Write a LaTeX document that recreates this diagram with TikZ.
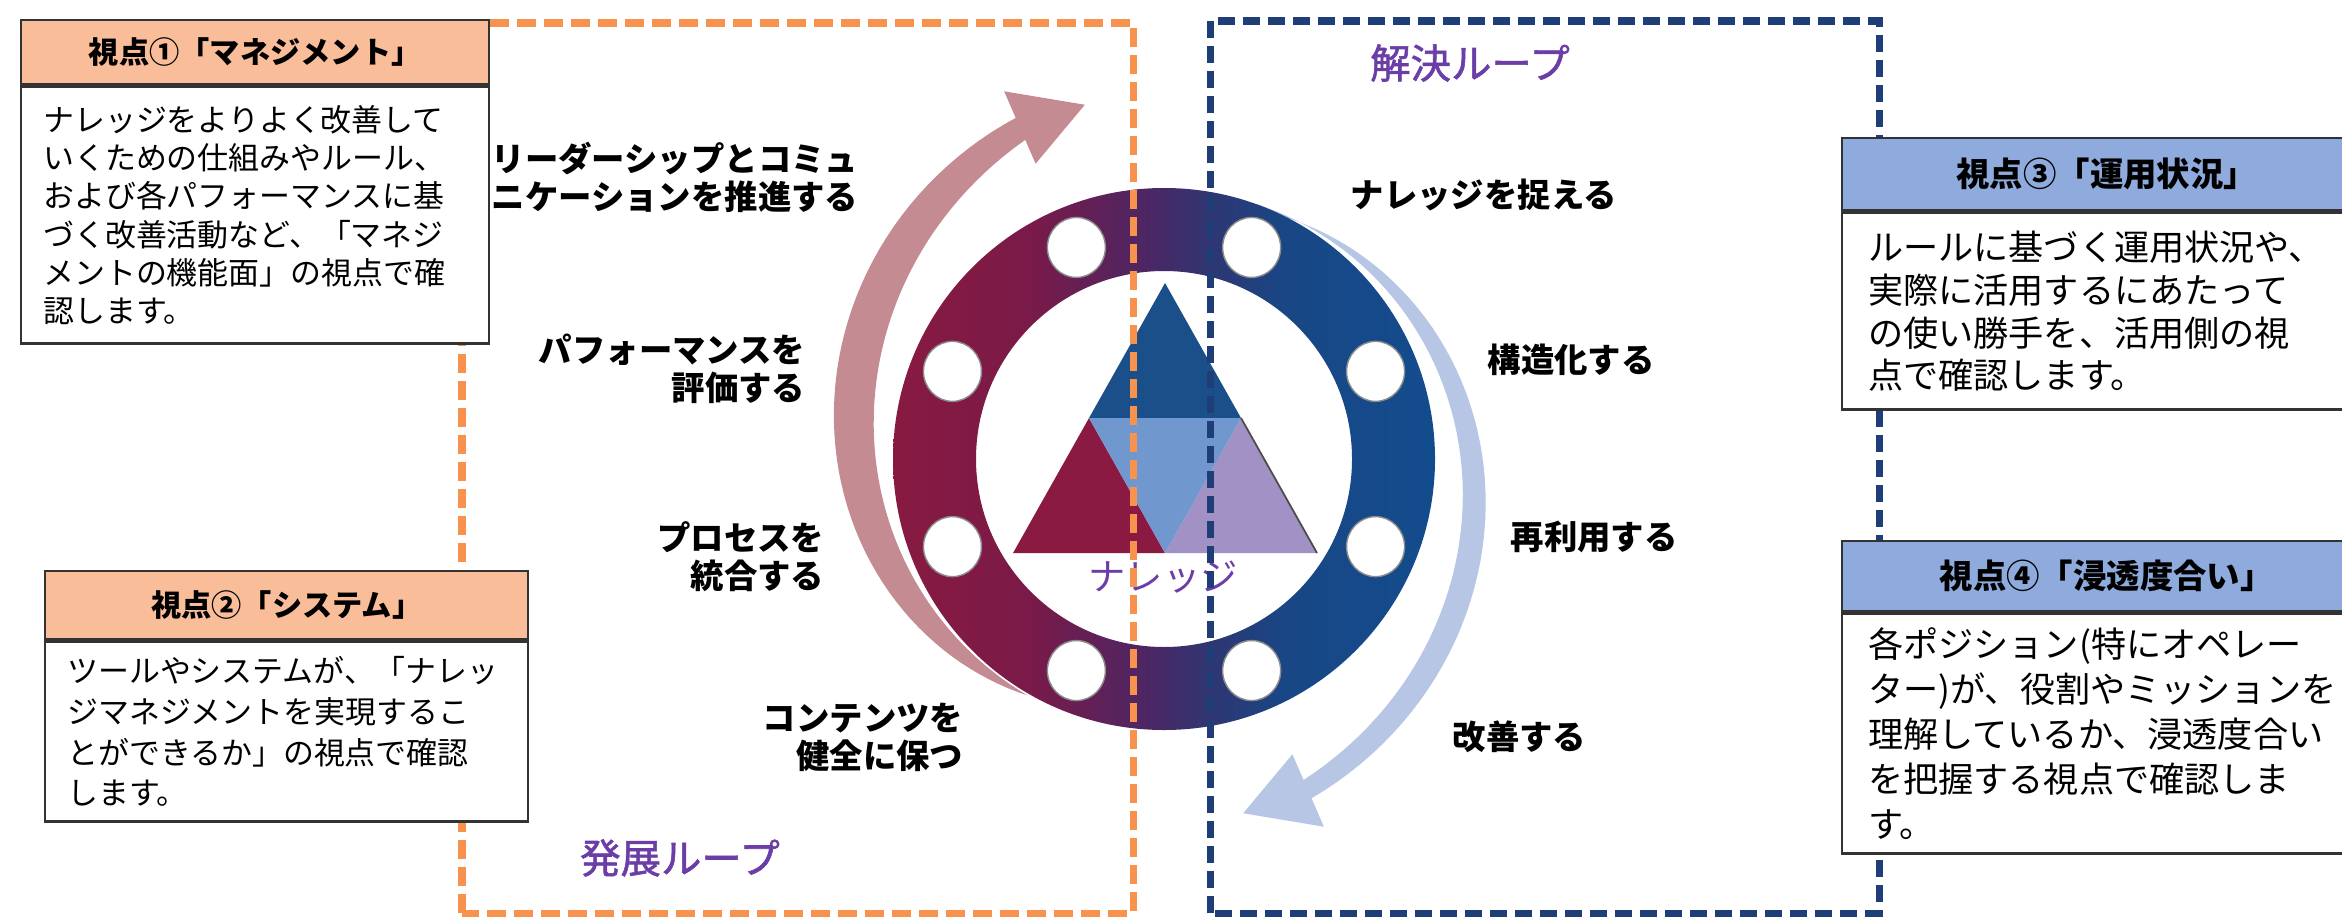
\documentclass[tikz,border=0pt]{standalone}
\usepackage{fontspec}
\setmainfont{Noto Sans CJK JP}
\newfontface\loopface{Noto Sans CJK JP}[FakeBold = 1.4]
\usepackage{tikz}
\usetikzlibrary{positioning}

\definecolor{peach}{HTML}{FABD99}
\definecolor{skyhead}{HTML}{8FAADC}
\definecolor{orangeline}{HTML}{F7934F}
\definecolor{navyline}{HTML}{1F3E78}
\definecolor{loopviolet}{HTML}{6B3DA6}
\definecolor{pinkarrow}{HTML}{C58B92}
\definecolor{bluearrow}{HTML}{B7C6E5}
\definecolor{tritop}{HTML}{1B4F8A}
\definecolor{trileft}{HTML}{8A1A41}
\definecolor{trimid}{HTML}{7097CE}
\definecolor{triright}{HTML}{A191C4}
\definecolor{ringa}{HTML}{881A41}
\definecolor{ringb}{HTML}{7A1A48}
\definecolor{ringc}{HTML}{4C2664}
\definecolor{ringd}{HTML}{2C3874}
\definecolor{ringe}{HTML}{194685}
\definecolor{ringf}{HTML}{134C8D}

\pgfdeclarehorizontalshading{ringshade}{100bp}{color(0bp)=(ringa); color(25bp)=(ringa);
  color(37.5bp)=(ringb); color(48.5bp)=(ringc); color(55bp)=(ringd); color(61bp)=(ringe);
  color(75bp)=(ringf); color(100bp)=(ringf)}

\tikzset{viewhead/.style = {draw = black!80, line width = 0.7pt, inner sep = 0,
                            anchor = north west}}
\tikzset{viewbody/.style = {draw = black!80, line width = 0.7pt, fill = white,
                            inner xsep = 0.22cm, inner ysep = 0, align = left}}
\tikzset{steplabel/.style = {inner sep = 0, font = \bfseries\fontsize{9.5pt}{10.8pt}\selectfont}}
\tikzset{looplabel/.style = {inner sep = 0, text = loopviolet,
                             font = \loopface\fontsize{11.5pt}{13pt}\selectfont}}
\tikzset{hole/.style = {draw = black!45, line width = 0.4pt}}
\tikzset{devframe/.style = {orangeline, line width = 2pt, dash pattern = on 0.19cm off 0.08cm}}
\tikzset{solveframe/.style = {navyline, line width = 2pt, dash pattern = on 0.17cm off 0.08cm}}
\tikzset{declare function = {tp(\a) = (240 - \a)/126.5;
                             rc(\a) = 2.73 + 0.87*(0.7*tp(\a) + 0.3*tp(\a)*tp(\a));
                             wpink(\a) = 0.24*tp(\a) + 1.1*tp(\a)*(1 - tp(\a));
                             wblue(\a) = 0.2*tp(\a) + 0.5*tp(\a)*(1 - tp(\a));}}

\begin{document}
\begin{tikzpicture}
      \useasboundingbox (0, 0) rectangle (23.42, 9.17);

      \coordinate (c) at (11.64, 4.58);

      \begin{scope} [shift = {(c)}]
        \fill [pinkarrow] plot [domain = 240:113.5, samples = 60]
                ({(rc(\x) - wpink(\x)/2)*cos(\x)}, {(rc(\x) - wpink(\x)/2)*sin(\x)})
              -- (113.5:3.22) -- (102.6:3.63) -- (113.5:4.01)
              -- plot [domain = 113.5:240, samples = 60]
                ({(rc(\x) + wpink(\x)/2)*cos(\x)}, {(rc(\x) + wpink(\x)/2)*sin(\x)})
              -- cycle;
        \fill [bluearrow, rotate = 180] plot [domain = 250:113.5, samples = 60]
                ({(rc(\x) - wblue(\x)/2)*cos(\x)}, {(rc(\x) - wblue(\x)/2)*sin(\x)})
              -- (113.5:3.22) -- (102.6:3.63) -- (113.5:4.01)
              -- plot [domain = 113.5:250, samples = 60]
                ({(rc(\x) + wblue(\x)/2)*cos(\x)}, {(rc(\x) + wblue(\x)/2)*sin(\x)})
              -- cycle;

        \shade [shading = ringshade, even odd rule] (0, 0) circle (2.71) (0, 0) circle (1.88)
              \foreach \a in {22.5, 67.5, ..., 337.5} {(\a:2.29) ellipse (0.29 and 0.30)};
        \foreach \a in {22.5, 67.5, ..., 337.5}
          \draw [hole] (\a:2.29) ellipse (0.29 and 0.30);
      \end{scope}

      \coordinate (apex) at (11.65, 6.34);
      \coordinate (bl) at (10.13, 3.64);
      \coordinate (br) at (13.17, 3.64);
      \coordinate (ml) at (10.89, 4.99);
      \coordinate (mr) at (12.41, 4.99);
      \coordinate (mb) at (11.65, 3.64);

      \fill [tritop] (apex) -- (ml) -- (mr) -- cycle;
      \fill [trileft] (ml) -- (bl) -- (mb) -- cycle;
      \fill [triright] (mr) -- (mb) -- (br) -- cycle;
      \fill [trimid] (ml) -- (mr) -- (mb) -- cycle;
      \draw [black!70, line width = 0.5pt] (mr) -- (br);

      \node [inner sep = 0, text = loopviolet, font = \fontsize{10.6pt}{12pt}\selectfont]
            (core) at (11.63, 3.40) {ナレッジ};

      \draw [devframe] (4.62, 0.04) rectangle (11.33, 8.94);
      \draw [solveframe] (12.10, 0.04) rectangle (18.79, 8.96);

      \node [looplabel] (devloop) at (6.80, 0.59) {発展ループ};
      \node [looplabel] (solveloop) at (14.70, 8.54) {解決ループ};

      \node [steplabel, anchor = west, align = left] (lead) at (4.91, 7.40)
            {リーダーシップとコミュ\\ニケーションを推進する};
      \node [steplabel, anchor = east, align = right] (perf) at (8.06, 5.48)
            {パフォーマンスを\\評価する};
      \node [steplabel, anchor = east, align = right] (proc) at (8.25, 3.60)
            {プロセスを\\統合する};
      \node [steplabel, anchor = east, align = right] (cont) at (9.64, 1.80)
            {コンテンツを\\健全に保つ};
      \node [steplabel, anchor = west] (capt) at (13.50, 7.22) {ナレッジを捉える};
      \node [steplabel, anchor = west] (struct) at (14.87, 5.57) {構造化する};
      \node [steplabel, anchor = west] (reuse) at (15.10, 3.80) {再利用する};
      \node [steplabel, anchor = west] (improve) at (14.52, 1.80) {改善する};

      \node [viewhead, fill = peach, minimum width = 4.68cm, minimum height = 0.64cm,
             font = \bfseries\fontsize{8.6pt}{10pt}\selectfont] (head1) at (0.20, 8.98)
            {視点①「マネジメント」};
      \node [viewbody, below = 0pt of head1, text width = 4.24cm, minimum height = 2.57cm,
             font = \fontsize{8.8pt}{10.9pt}\selectfont] (body1)
            {ナレッジをよりよく改善して\\いくための仕組みやルール、\\および各パフォーマンスに基\\づく改善活動など、「マネジ\\メントの機能面」の視点で確\\認します。};

      \node [viewhead, fill = peach, minimum width = 4.83cm, minimum height = 0.68cm,
             font = \bfseries\fontsize{8.6pt}{10pt}\selectfont] (head2) at (0.44, 3.47)
            {視点②「システム」};
      \node [viewbody, below = 0pt of head2, text width = 4.39cm, minimum height = 1.80cm,
             font = \fontsize{8.8pt}{11.6pt}\selectfont] (body2)
            {ツールやシステムが、「ナレッ\\ジマネジメントを実現するこ\\とができるか」の視点で確認\\します。};

      \node [viewhead, fill = skyhead, minimum width = 5.29cm, minimum height = 0.72cm,
             font = \bfseries\fontsize{9.5pt}{11pt}\selectfont] (head3) at (18.41, 7.80)
            {視点③「運用状況」};
      \node [viewbody, below = 0pt of head3, inner xsep = 0.26cm, text width = 4.77cm,
             minimum height = 1.97cm, font = \fontsize{10pt}{12.2pt}\selectfont] (body3)
            {ルールに基づく運用状況や、\\実際に活用するにあたって\\の使い勝手を、活用側の視\\点で確認します。};

      \node [viewhead, fill = skyhead, minimum width = 5.29cm, minimum height = 0.70cm,
             font = \bfseries\fontsize{9.5pt}{11pt}\selectfont] (head4) at (18.41, 3.77)
            {視点④「浸透度合い」};
      \node [viewbody, below = 0pt of head4, inner xsep = 0.26cm, text width = 4.77cm,
             minimum height = 2.40cm, font = \fontsize{10pt}{12.8pt}\selectfont] (body4)
            {各ポジション(特にオペレー\\ター)が、役割やミッションを\\理解しているか、浸透度合い\\を把握する視点で確認しま\\す。};
\end{tikzpicture}
\end{document}
